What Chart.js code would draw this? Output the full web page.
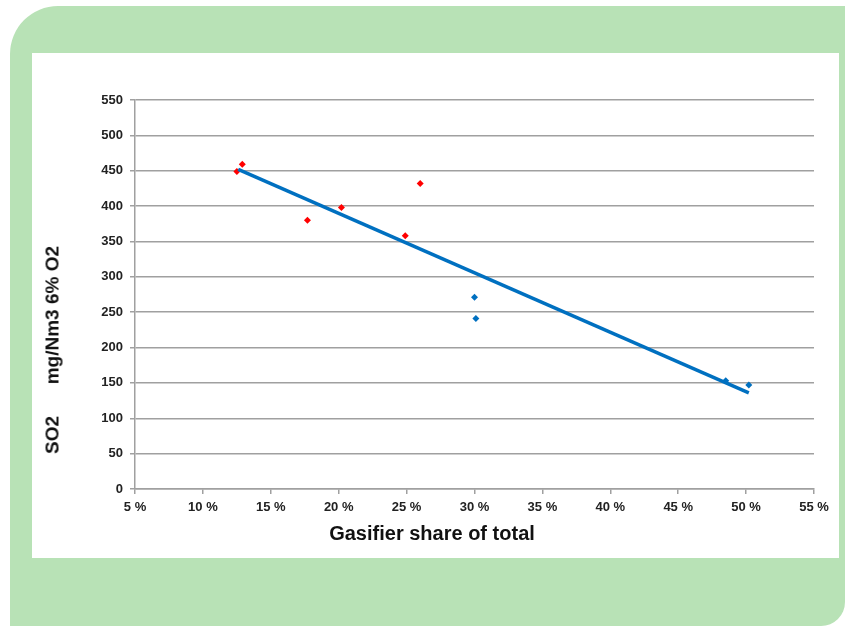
<!DOCTYPE html>
<html lang="en">
<head>
  <meta charset="UTF-8" />
  <title>SO2 vs gasifier share</title>
  <script src="https://cdn.jsdelivr.net/npm/chart.js"></script>
  <style>
    body { margin: 0; width: 845px; height: 626px; overflow: hidden; background: #fff; position: relative; font-family: 'Liberation Sans', Arial, sans-serif; }
    .panel { position: absolute; left: 10px; top: 6px; width: 835px; height: 620px; background: #b8e2b6; border-radius: 48px 0 24px 0; }
    .card { position: absolute; left: 32px; top: 53px; width: 807px; height: 505px; background: #fff; }
    #chartBox { position: absolute; left: 32px; top: 53px; width: 807px; height: 505px; }
    .ytitle {
      position: absolute; left: 52px; top: 350px; transform: translate(-50%, -50%) rotate(-90deg);
      white-space: pre; font-size: 19px; font-weight: bold; color: #111; line-height: 1;
    }
  </style>
</head>
<body>
  <div class="panel"></div>
  <div class="card"></div>
  <div id="chartBox"><canvas id="so2Chart"></canvas></div>
  <div class="ytitle">SO2      mg/Nm3 6% O2</div>

  <script>
    // gasifier share (%) and SO2 (mg/Nm3 6% O2)
    const redX = [12.5, 12.9, 17.7, 20.2, 24.9, 26.0];
    const redY = [449, 459, 380, 398, 358, 432];
    const blueX = [30.0, 30.1, 48.5, 50.2];
    const blueY = [271, 241, 153, 147];
    // linear trend end points
    const trendX = [12.6, 50.2];
    const trendY = [452, 136];

    const xTicks = [5, 10, 15, 20, 25, 30, 35, 40, 45, 50, 55];
    const yTicks = [0, 50, 100, 150, 200, 250, 300, 350, 400, 450, 500, 550];

    const toPoints = (xs, ys) => xs.map((x, i) => ({ x, y: ys[i] }));

    const gridGray = '#a0a0a0';
    const fam = "'Liberation Sans', Arial, sans-serif";
    const tickFont = { family: fam, size: 13, weight: 'bold' };

    const ctx = document.getElementById('so2Chart').getContext('2d');
    new Chart(ctx, {
      type: 'scatter',
      data: {
        datasets: [
          {
            label: 'trend',
            data: toPoints(trendX, trendY),
            showLine: true,
            borderColor: '#0070c0',
            borderWidth: 3.5,
            pointRadius: 0
          },
          {
            label: 'red',
            data: toPoints(redX, redY),
            pointStyle: 'rectRot',
            pointRadius: 3.5,
            backgroundColor: '#ff0000',
            borderColor: '#ff0000',
            borderWidth: 0
          },
          {
            label: 'blue',
            data: toPoints(blueX, blueY),
            pointStyle: 'rectRot',
            pointRadius: 3.5,
            backgroundColor: '#0070c0',
            borderColor: '#0070c0',
            borderWidth: 0
          }
        ]
      },
      options: {
        responsive: true,
        maintainAspectRatio: false,
        animation: false,
        layout: { padding: { left: 18, right: 25, top: 47, bottom: 0 } },
        plugins: {
          legend: { display: false },
          tooltip: { enabled: false },
          title: {
            display: true,
            position: 'bottom',
            text: 'Gasifier share of total',
            color: '#111',
            font: { family: fam, size: 20, weight: 'bold' },
            padding: { top: 0, bottom: 12 }
          }
        },
        scales: {
          x: {
            type: 'linear',
            min: xTicks[0],
            max: xTicks[xTicks.length - 1],
            afterBuildTicks: (s) => { s.ticks = xTicks.map(v => ({ value: v })); },
            afterFit: (s) => { s.height = 33; },
            ticks: {
              color: '#222',
              font: tickFont,
              padding: 6,
              maxRotation: 0,
              callback: (v) => v + ' %'
            },
            grid: { drawOnChartArea: false, drawTicks: true, tickLength: 5, color: gridGray, lineWidth: 1.5 },
            border: { color: gridGray, width: 1.5 }
          },
          y: {
            min: yTicks[0],
            max: yTicks[yTicks.length - 1],
            afterBuildTicks: (s) => { s.ticks = yTicks.map(v => ({ value: v })); },
            afterFit: (s) => { s.width = 85; },
            ticks: { color: '#222', font: tickFont, padding: 7 },
            grid: { color: gridGray, lineWidth: 1.5, tickLength: 5 },
            border: { color: gridGray, width: 1.5 }
          }
        }
      }
    });
  </script>
</body>
</html>
